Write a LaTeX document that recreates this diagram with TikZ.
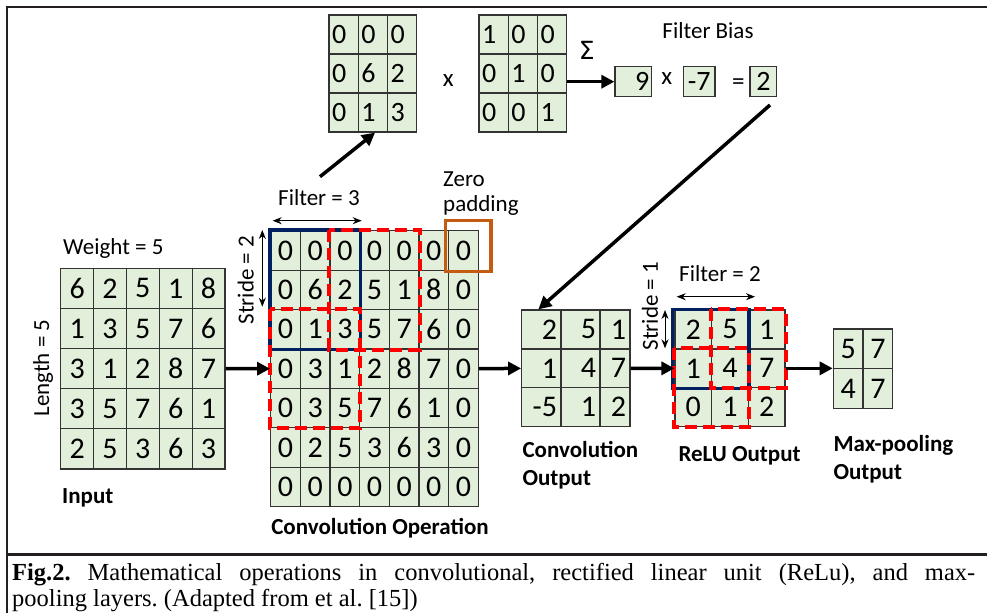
\documentclass[tikz,border=0pt]{standalone}
\usepackage{fontspec}
\setmainfont{Carlito}
\newfontfamily\capfont{Liberation Serif}
\newfontfamily\dvsfont{DejaVu Sans}
\usetikzlibrary{arrows.meta}
\definecolor{cellg}{RGB}{226,239,218}
\definecolor{navyb}{RGB}{0,32,96}
\definecolor{zorange}{RGB}{197,90,17}
\definecolor{framec}{RGB}{35,31,32}
\newcommand\mkgrid[7]{%
  \foreach \rowvals [count=\ri] in {#7} {%
    \foreach \val [count=\ci] in \rowvals {%
      \node[#1, minimum width=#5pt, minimum height=#6pt] (#2-\ri-\ci) at ({#3+(\ci-0.5)*#5},{#4+(\ri-0.5)*#6}) {\val};
    }
  }
}
\begin{document}
\begin{tikzpicture}[x=1pt,y=-1pt,
  cell/.style={draw=black!80, line width=1.2pt, fill=cellg, inner sep=0pt, font=\fontsize{30}{30}\selectfont},
  tcell/.style={draw=black!80, line width=1.2pt, fill=cellg, inner sep=0pt, font=\fontsize{28}{28}\selectfont},
  lcell/.style={tcell, inner xsep=3pt, text width=23pt, align=left},
  lbl/.style={inner sep=0pt, font=\fontsize{23}{26}\selectfont},
  blbl/.style={inner sep=0pt, font=\fontsize{23}{26}\selectfont\bfseries},
  bigarrow/.style={line width=3.5pt, -{Triangle[length=13pt,width=13pt]}},
  dimarrow/.style={line width=1pt, {Stealth[length=9pt,width=7pt]}-{Stealth[length=9pt,width=7pt]}},
  bluebox/.style={draw=navyb, line width=3.5pt},
  redbox/.style={draw=red, line width=4pt, dash pattern=on 12pt off 6pt},
  framel/.style={draw=framec, line width=2.3pt}
]
\useasboundingbox (0,0) rectangle (987,613);
\fill[white] (0,0) rectangle (987,613);

% frame
\draw[framel] (987,6.7) -- (6.7,6.7) -- (6.7,613);
\draw[framel] (6.7,554.5) -- (987,554.5);

% top matrices
\mkgrid{lcell}{ma}{329}{15}{29.23}{39}{{0,0,0},{0,6,2},{0,1,3}}
\mkgrid{lcell}{mb}{479}{15}{29.23}{39}{{1,0,0},{0,1,0},{0,0,1}}
\node[lbl, anchor=base, font=\fontsize{25}{26}\selectfont] (xa) at (448.3,86) {x};
\node[inner sep=0pt, anchor=base, font=\dvsfont\fontsize{25}{26}\selectfont] (sig) at (586.7,59) {Σ};
\node[tcell, minimum width=36.7pt, minimum height=30pt, text width=32pt, inner xsep=2.35pt, align=right] (b9) at (633.35,81.7) {9};
\node[lbl, anchor=base, font=\fontsize{25}{26}\selectfont] (xb) at (666.7,84) {x};
\node[tcell, minimum width=31.7pt, minimum height=30pt] (b7) at (699.15,81.7) {-7};
\node[lbl, anchor=base, font=\fontsize{25}{26}\selectfont] (eq) at (738.3,89) {=};
\node[tcell, minimum width=26.7pt, minimum height=30pt] (b2) at (763.35,81.7) {2};
\node[lbl, anchor=base] (fb) at (708,38.3) {Filter Bias};
\draw[bigarrow] (b9.west -| mb-2-3.east) -- (b9.west);

% input
\mkgrid{cell}{in}{60.7}{268.3}{32.86}{40.14}{{6,2,5,1,8},{1,3,5,7,6},{3,1,2,8,7},{3,5,7,6,1},{2,5,3,6,3}}
\node[lbl, anchor=base west] (wlab) at (63,254) {Weight = 5};
\node[lbl, rotate=90] (llab) at (43,368) {Length = 5};
\node[blbl, anchor=base west] (inlab) at (62,503.3) {Input};

% convolution grid
\mkgrid{cell}{cv}{270.7}{230.7}{29.66}{39.43}{{0,0,0,0,0,0,0},{0,6,2,5,1,8,0},{0,1,3,5,7,6,0},{0,3,1,2,8,7,0},{0,3,5,7,6,1,0},{0,2,5,3,6,3,0},{0,0,0,0,0,0,0}}
\draw[bluebox] (cv-1-1.north west) rectangle (cv-3-3.south east);
\draw[redbox] (cv-1-3.north west) rectangle (cv-3-5.south east);
\draw[redbox] (cv-3-1.north west) rectangle (cv-5-3.south east);
\draw[draw=zorange, line width=3.5pt] (445.7,220.7) rectangle (491,271.7);
\node[lbl, anchor=base west] (z1) at (443,186) {Zero};
\node[lbl, anchor=base west] (z2) at (443,211.7) {padding};
\coordinate (f3a) at (272.7,220.7);
\coordinate (f3b) at (361.7,220.7);
\draw[dimarrow] (f3a) -- (f3b);
\node[lbl, anchor=base] (f3lab) at (319,205) {Filter = 3};
\coordinate (s2a) at (262.3,230);
\coordinate (s2b) at (262.3,306.7);
\draw[dimarrow] (s2a) -- (s2b);
\node[lbl, rotate=90] (s2lab) at (245.7,280) {Stride = 2};
\node[blbl, anchor=base] (cvlab) at (380,534) {Convolution Operation};

% convolution output
\tikzset{cocell/.style={cell, inner xsep=4pt, align=right, minimum height=38.9pt}}
\node[cocell, minimum width=39.3pt, text width=31.3pt] (co-1-1) at (541.35,329.45) {2};
\node[cocell, minimum width=39pt, text width=31pt] (co-1-2) at (580.5,329.45) {5};
\node[cocell, minimum width=30pt, text width=22pt] (co-1-3) at (615,329.45) {1};
\node[cocell, minimum width=39.3pt, text width=31.3pt] (co-2-1) at (541.35,368.35) {1};
\node[cocell, minimum width=39pt, text width=31pt] (co-2-2) at (580.5,368.35) {4};
\node[cocell, minimum width=30pt, text width=22pt] (co-2-3) at (615,368.35) {7};
\node[cocell, minimum width=39.3pt, text width=31.3pt] (co-3-1) at (541.35,407.25) {-5};
\node[cocell, minimum width=39pt, text width=31pt] (co-3-2) at (580.5,407.25) {1};
\node[cocell, minimum width=30pt, text width=22pt] (co-3-3) at (615,407.25) {2};
\node[blbl, anchor=base west] (colab1) at (522.3,457.3) {Convolution};
\node[blbl, anchor=base west] (colab2) at (522.3,485) {Output};

% relu
\mkgrid{cell}{re}{675}{310}{36.67}{38.9}{{2,5,1},{1,4,7},{0,1,2}}
\draw[bluebox] ([xshift=-2pt]re-1-1.north west) rectangle (re-2-2.south east);
\draw[redbox] (re-1-2.north west) rectangle (re-2-3.south east);
\draw[redbox] (re-2-1.north west) rectangle (re-3-2.south east);
\coordinate (f2a) at (676.7,296.7);
\coordinate (f2b) at (755,296.7);
\draw[dimarrow] (f2a) -- (f2b);
\node[lbl, anchor=base] (f2lab) at (720,281) {Filter = 2};
\coordinate (s1a) at (665,310);
\coordinate (s1b) at (665,348.3);
\draw[dimarrow] (s1a) -- (s1b);
\node[lbl, rotate=90] (s1lab) at (650,306) {Stride = 1};
\node[blbl, anchor=base west] (relab) at (678.3,461.7) {ReLU Output};

% max pooling
\mkgrid{cell}{mp}{833.3}{329}{29.7}{39.65}{{5,7},{4,7}}
\node[blbl, anchor=base west] (mplab1) at (833.3,451.7) {Max-pooling};
\node[blbl, anchor=base west] (mplab2) at (833.3,479.3) {Output};

% flow arrows
\draw[bigarrow] (in-3-5.east) -- (cv-4-1.west);
\draw[bigarrow] (cv-4-7.east) -- (co-2-1.west);
\draw[bigarrow] (co-2-3.east) -- (re-2-1.west);
\draw[bigarrow] (re-2-3.east) -- (re-2-3.east -| mp-1-1.south west);
\coordinate (upstart) at (320,176.7);
\draw[bigarrow] (upstart) -- ([xshift=-13pt]ma-3-2.south east);
\coordinate (downstart) at (770,105);
\draw[bigarrow] (downstart) -- ([xshift=-3pt]co-1-1.north);

% caption
\node[anchor=north west, inner sep=0pt, text width=963pt, align=justify, font=\capfont\fontsize{24.5}{26}\selectfont] (cap) at (12,563) {\frenchspacing\textbf{Fig.2.} Mathematical operations in convolutional, rectified linear unit (ReLu), and max-\linebreak pooling layers. (Adapted from et al. [15])};
\end{tikzpicture}
\end{document}
